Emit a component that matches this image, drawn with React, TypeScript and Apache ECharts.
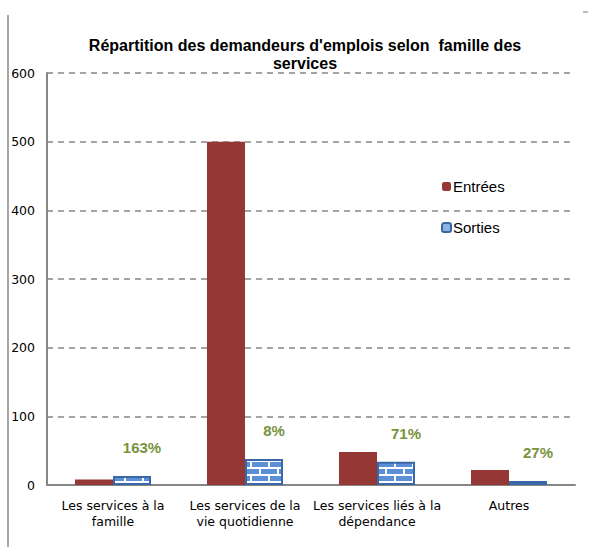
import React, { useEffect, useRef } from "react";
import * as echarts from "echarts";

const titleText = "Répartition des demandeurs d'emplois selon  famille des\nservices";
const categories = [
  "Les services à la\nfamille",
  "Les services de la\nvie quotidienne",
  "Les services liés à la\ndépendance",
  "Autres",
];
const entrees = [8, 500, 48, 22];
const sorties = [13, 38, 34, 6];
const ratioLabels = ["163%", "8%", "71%", "27%"];
const yTicks = { min: 0, max: 600, interval: 100 };

function makeBrickPattern(): HTMLCanvasElement {
  const c = document.createElement("canvas");
  c.width = 18;
  c.height = 14;
  const ctx = c.getContext("2d")!;
  ctx.fillStyle = "#ffffff";
  ctx.fillRect(0, 0, 18, 14);
  ctx.fillStyle = "#5b8fd8";
  ctx.fillRect(0, 0, 16, 5);
  ctx.fillRect(0, 7, 7, 5);
  ctx.fillRect(9, 7, 9, 5);
  return c;
}

export default function App() {
  const ref = useRef<HTMLDivElement>(null);
  useEffect(() => {
    if (!ref.current) return;
    const chart = echarts.init(ref.current, null, { renderer: "svg" });
    const pattern = { image: makeBrickPattern(), repeat: "repeat" as const };
    const font = "Liberation Sans";
    const wide = "DejaVu Sans";
    chart.setOption({
      animation: false,
      backgroundColor: "#ffffff",
      title: {
        text: titleText,
        left: 300,
        top: 31,
        textAlign: "center",
        textStyle: {
          fontFamily: font,
          fontSize: 16,
          fontWeight: "bold",
          color: "#000",
          lineHeight: 18,
        },
      },
      legend: {
        orient: "vertical",
        left: 436,
        top: 174,
        itemWidth: 9,
        itemHeight: 9,
        itemGap: 26,
        textStyle: { fontFamily: font, fontSize: 15, color: "#000", padding: [0, 0, 0, -3] },
        data: [
          { name: "Entrées", itemStyle: { color: "#953735", borderWidth: 0 } },
          {
            name: "Sorties",
            itemStyle: { color: "#8db3e2", borderColor: "#3a67a8", borderWidth: 2 },
          },
        ],
      },
      grid: { left: 47, right: 22, top: 73, bottom: 62, containLabel: false },
      xAxis: {
        type: "category",
        data: categories,
        axisLine: { lineStyle: { color: "#868686", width: 2 } },
        axisTick: { show: false },
        axisLabel: {
          interval: 0,
          fontFamily: wide,
          fontSize: 12.5,
          color: "#000",
          lineHeight: 16,
          margin: 12,
        },
      },
      yAxis: {
        type: "value",
        min: yTicks.min,
        max: yTicks.max,
        interval: yTicks.interval,
        axisLine: { show: true, lineStyle: { color: "#868686", width: 2 } },
        axisTick: { show: false },
        axisLabel: { fontFamily: wide, fontSize: 12.5, color: "#000", margin: 12 },
        splitLine: {
          lineStyle: { color: "#868686", width: 1.5, type: [6, 5] },
        },
      },
      series: [
        {
          name: "Entrées",
          type: "bar",
          data: entrees,
          barWidth: 38,
          barGap: "0%",
          itemStyle: { color: "#953735" },
        },
        {
          name: "Sorties",
          type: "bar",
          data: sorties,
          barWidth: 38,
          barGap: "0%",
          itemStyle: { color: pattern, borderColor: "#3a67a8", borderWidth: 2 },
          label: {
            show: true,
            position: "top",
            distance: 5,
            offset: [10, -16],
            formatter: (p: any) => ratioLabels[p.dataIndex],
            fontFamily: font,
            fontSize: 15,
            fontWeight: "bold",
            color: "#77933c",
          },
        },
      ],
      graphic: [
        {
          type: "line",
          shape: { x1: 8, y1: 15, x2: 8, y2: 547 },
          style: { stroke: "#a6a6a6", lineWidth: 2 },
        },
        {
          type: "line",
          shape: { x1: 583, y1: 12, x2: 588, y2: 12 },
          style: { stroke: "#a6a6a6", lineWidth: 1.5 },
        },
      ],
    });
    return () => chart.dispose();
  }, []);
  return (
    <div
      ref={ref}
      style={{ position: "fixed", left: 0, top: 0, width: 597, height: 547 }}
    />
  );
}
